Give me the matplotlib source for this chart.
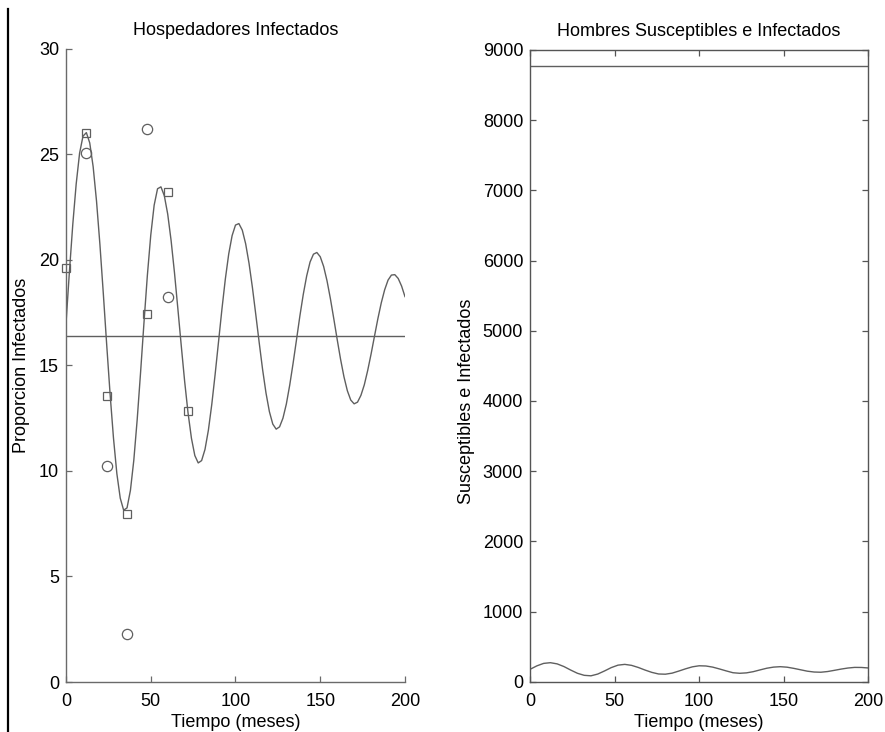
import matplotlib
matplotlib.use("Agg")
import matplotlib.pyplot as plt
from matplotlib.lines import Line2D

plt.rcParams['font.family'] = ['Liberation Sans', 'DejaVu Sans']

# tiempo (meses) para la curva del modelo, cada 2 meses
t_model = list(range(0, 201, 2))
prop_model = [
    17.00, 19.44, 21.69, 23.60, 25.05, 25.86, 26.03, 25.54, 24.42, 22.78,
    20.73, 18.41, 15.98, 13.65, 11.56, 9.87, 8.71, 8.14, 8.25, 9.08,
    10.51, 12.44, 14.68, 17.03, 19.27, 21.17, 22.59, 23.37, 23.46, 23.04,
    22.17, 20.92, 19.39, 17.68, 15.93, 14.24, 12.75, 11.55, 10.73, 10.38,
    10.49, 11.02, 11.93, 13.15, 14.59, 16.13, 17.67, 19.09, 20.28, 21.15,
    21.65, 21.72, 21.41, 20.76, 19.83, 18.68, 17.39, 16.07, 14.80, 13.69,
    12.81, 12.22, 11.98, 12.09, 12.50, 13.17, 14.07, 15.11, 16.22, 17.35,
    18.37, 19.24, 19.90, 20.27, 20.35, 20.15, 19.69, 19.01, 18.16, 17.21,
    16.23, 15.29, 14.46, 13.80, 13.36, 13.18, 13.26, 13.58, 14.08, 14.76,
    15.54, 16.38, 17.21, 17.96, 18.58, 19.04, 19.28, 19.30, 19.12, 18.76,
    18.26,
]
prop_equilibrio = 16.4

# datos observados
t_cuadros = [0, 12, 24, 36, 48, 60, 72]
y_cuadros = [19.6, 26.0, 13.55, 7.95, 17.45, 23.22, 12.86]
t_circulos = [12, 24, 36, 48, 60]
y_circulos = [25.05, 10.25, 2.27, 26.2, 18.23]

# hombres susceptibles e infectados, cada 4 meses
t_hombres = list(range(0, 201, 4))
infectados = [
    177, 226, 261, 271, 254, 216, 166, 120, 91, 84,
    109, 153, 201, 236, 247, 233, 203, 166, 133, 110,
    107, 122, 152, 184, 212, 227, 224, 208, 182, 154,
    128, 120, 126, 143, 168, 192, 208, 214, 207, 190,
    170, 150, 138, 135, 145, 162, 180, 195, 204, 203,
    196,
]
susceptibles = 8770

gris = '#5f5f5f'
fs = 13

fig = plt.figure(figsize=(8.85, 7.32), dpi=100)

# --- izquierda ---
ax1 = fig.add_axes([0.0746, 0.0683, 0.383, 0.865])
ax1.plot(t_model, prop_model, color=gris, lw=1.0)
ax1.axhline(prop_equilibrio, color=gris, lw=1.0)
ax1.plot(t_cuadros, y_cuadros, ls='none', marker='s', ms=6.2, mfc='none',
         mec=gris, mew=0.9, clip_on=False)
ax1.plot(t_circulos, y_circulos, ls='none', marker='o', ms=7.4, mfc='none',
         mec=gris, mew=0.9, clip_on=False)
ax1.set_xlim(0, 200)
ax1.set_ylim(0, 30)
ax1.set_xticks([0, 50, 100, 150, 200])
ax1.set_yticks([0, 5, 10, 15, 20, 25, 30])
ax1.spines['top'].set_visible(False)
ax1.spines['right'].set_visible(False)
for s in ['left', 'bottom']:
    ax1.spines[s].set_color('#6a6a6a')
    ax1.spines[s].set_linewidth(1.0)
ax1.tick_params(direction='in', length=4, width=0.9, color='#6a6a6a',
                labelsize=fs, pad=5)
ax1.tick_params(axis='x', pad=8)
ax1.set_title('Hospedadores Infectados', fontsize=fs, pad=10)
ax1.set_xlabel('Tiempo (meses)', fontsize=fs, labelpad=3)
ax1.set_ylabel('Proporcion Infectados', fontsize=fs)
ax1.yaxis.set_label_coords(-0.105, 0.5)

# --- derecha ---
ax2 = fig.add_axes([0.599, 0.0687, 0.382, 0.863])
ax2.plot([0, 200], [susceptibles, susceptibles], color=gris, lw=1.0)
ax2.plot(t_hombres, infectados, color=gris, lw=1.0)
ax2.set_xlim(0, 200)
ax2.set_ylim(0, 9000)
ax2.set_xticks([0, 50, 100, 150, 200])
ax2.set_yticks(range(0, 9001, 1000))
for s in ax2.spines.values():
    s.set_color('#555555')
    s.set_linewidth(1.0)
ax2.tick_params(direction='in', length=4, width=0.9, color='#555555',
                top=True, right=True, labelsize=fs, pad=5)
ax2.tick_params(axis='x', pad=8)
ax2.set_title('Hombres Susceptibles e Infectados', fontsize=fs, pad=10)
ax2.set_xlabel('Tiempo (meses)', fontsize=fs, labelpad=3)
ax2.set_ylabel('Susceptibles e Infectados', fontsize=fs)
ax2.yaxis.set_label_coords(-0.162, 0.444)

# borde vertical del escaneo
fig.add_artist(Line2D([0.0085, 0.0085], [0.0, 0.988], color='black', lw=1.6,
                      transform=fig.transFigure))

fig.savefig('out.png', dpi=100)
